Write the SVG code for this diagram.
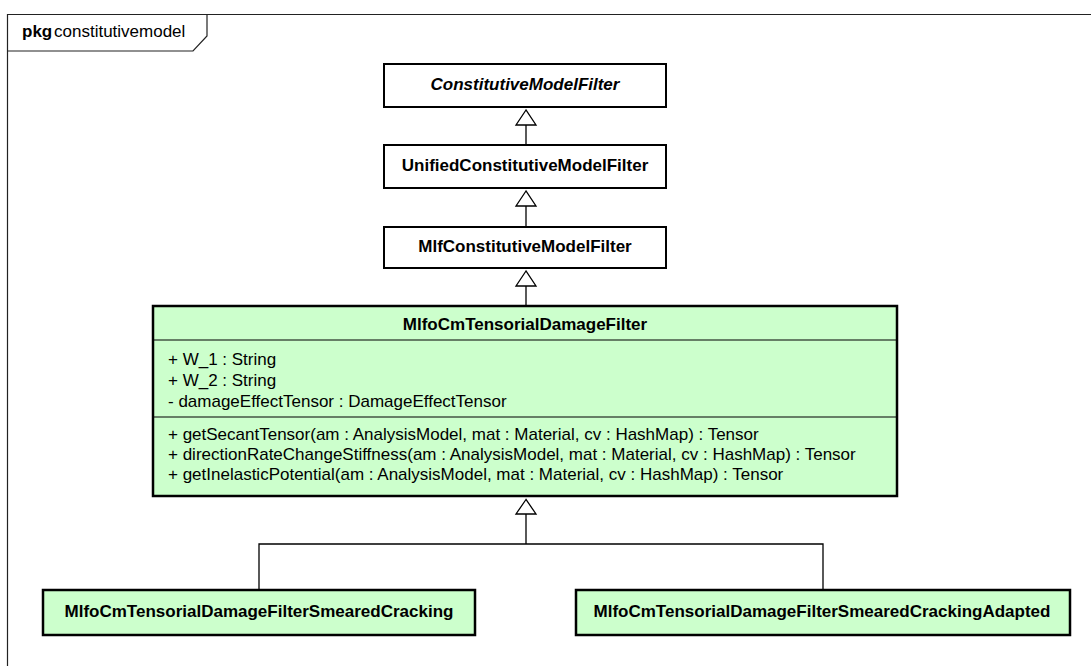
<svg xmlns="http://www.w3.org/2000/svg" width="1091" height="666" viewBox="0 0 1091 666">
<style>
text{font-family:"Liberation Sans",Arial,sans-serif;font-size:17px;fill:#000}
.b{font-weight:bold}
.t{text-anchor:middle}
.box{fill:#fff;stroke:#000;stroke-width:2}
.gbox{fill:#ccffcc;stroke:#000;stroke-width:2.5}
.sep{stroke:#000;stroke-width:1.2;fill:none}
.ln{stroke:#000;stroke-width:1.3;fill:none}
.tri{fill:#fff;stroke:#000;stroke-width:1.3}
.frame{fill:none;stroke:#222;stroke-width:1.2}
</style>
<rect width="1091" height="666" fill="#fff"/>
<g id="frame">
<path class="frame" d="M7.5,700 V14.5 H1100"/>
<path class="frame" d="M7.5,51 H193 L207,36 V14.5"/>
<text x="22" y="37" class="b">pkg</text>
<text x="54" y="37">constitutivemodel</text>
</g>
<g id="connectors">
<path class="ln" d="M526,125 V145"/>
<polygon class="tri" points="526,110 516,125 536,125"/>
<path class="ln" d="M526,206 V227"/>
<polygon class="tri" points="526,191 516,206 536,206"/>
<path class="ln" d="M526,286 V306"/>
<polygon class="tri" points="526,271 516,286 536,286"/>
<path class="ln" d="M526,514 V544 M259,590 V544 H823 V590"/>
<polygon class="tri" points="526,499.5 516,514 536,514"/>
</g>
<g id="ConstitutiveModelFilter">
<rect class="box" x="384" y="64" width="282" height="43"/>
<text x="525" y="90" class="b t" font-style="italic">ConstitutiveModelFilter</text>
</g>
<g id="UnifiedConstitutiveModelFilter">
<rect class="box" x="384" y="145" width="282" height="43"/>
<text x="525" y="171" class="b t">UnifiedConstitutiveModelFilter</text>
</g>
<g id="MlfConstitutiveModelFilter">
<rect class="box" x="384" y="227" width="282" height="41"/>
<text x="525" y="252" class="b t">MlfConstitutiveModelFilter</text>
</g>
<g id="MlfoCmTensorialDamageFilter">
<rect class="gbox" x="153" y="306" width="744" height="190"/>
<line class="sep" x1="153" y1="340" x2="897" y2="340"/>
<line class="sep" x1="153" y1="417" x2="897" y2="417"/>
<text x="525" y="330" class="b t">MlfoCmTensorialDamageFilter</text>
<text x="168" y="365">+ W_1 : String</text>
<text x="168" y="386">+ W_2 : String</text>
<text x="168" y="407">- damageEffectTensor : DamageEffectTensor</text>
<text x="168" y="440">+ getSecantTensor(am : AnalysisModel, mat : Material, cv : HashMap) : Tensor</text>
<text x="168" y="460">+ directionRateChangeStiffness(am : AnalysisModel, mat : Material, cv : HashMap) : Tensor</text>
<text x="168" y="480">+ getInelasticPotential(am : AnalysisModel, mat : Material, cv : HashMap) : Tensor</text>
</g>
<g id="MlfoCmTensorialDamageFilterSmearedCracking">
<rect class="gbox" x="43" y="590" width="432" height="45"/>
<text x="259" y="617" class="b t">MlfoCmTensorialDamageFilterSmearedCracking</text>
</g>
<g id="MlfoCmTensorialDamageFilterSmearedCrackingAdapted">
<rect class="gbox" x="576" y="590" width="494" height="45"/>
<text x="822" y="617" class="b t">MlfoCmTensorialDamageFilterSmearedCrackingAdapted</text>
</g>
</svg>
